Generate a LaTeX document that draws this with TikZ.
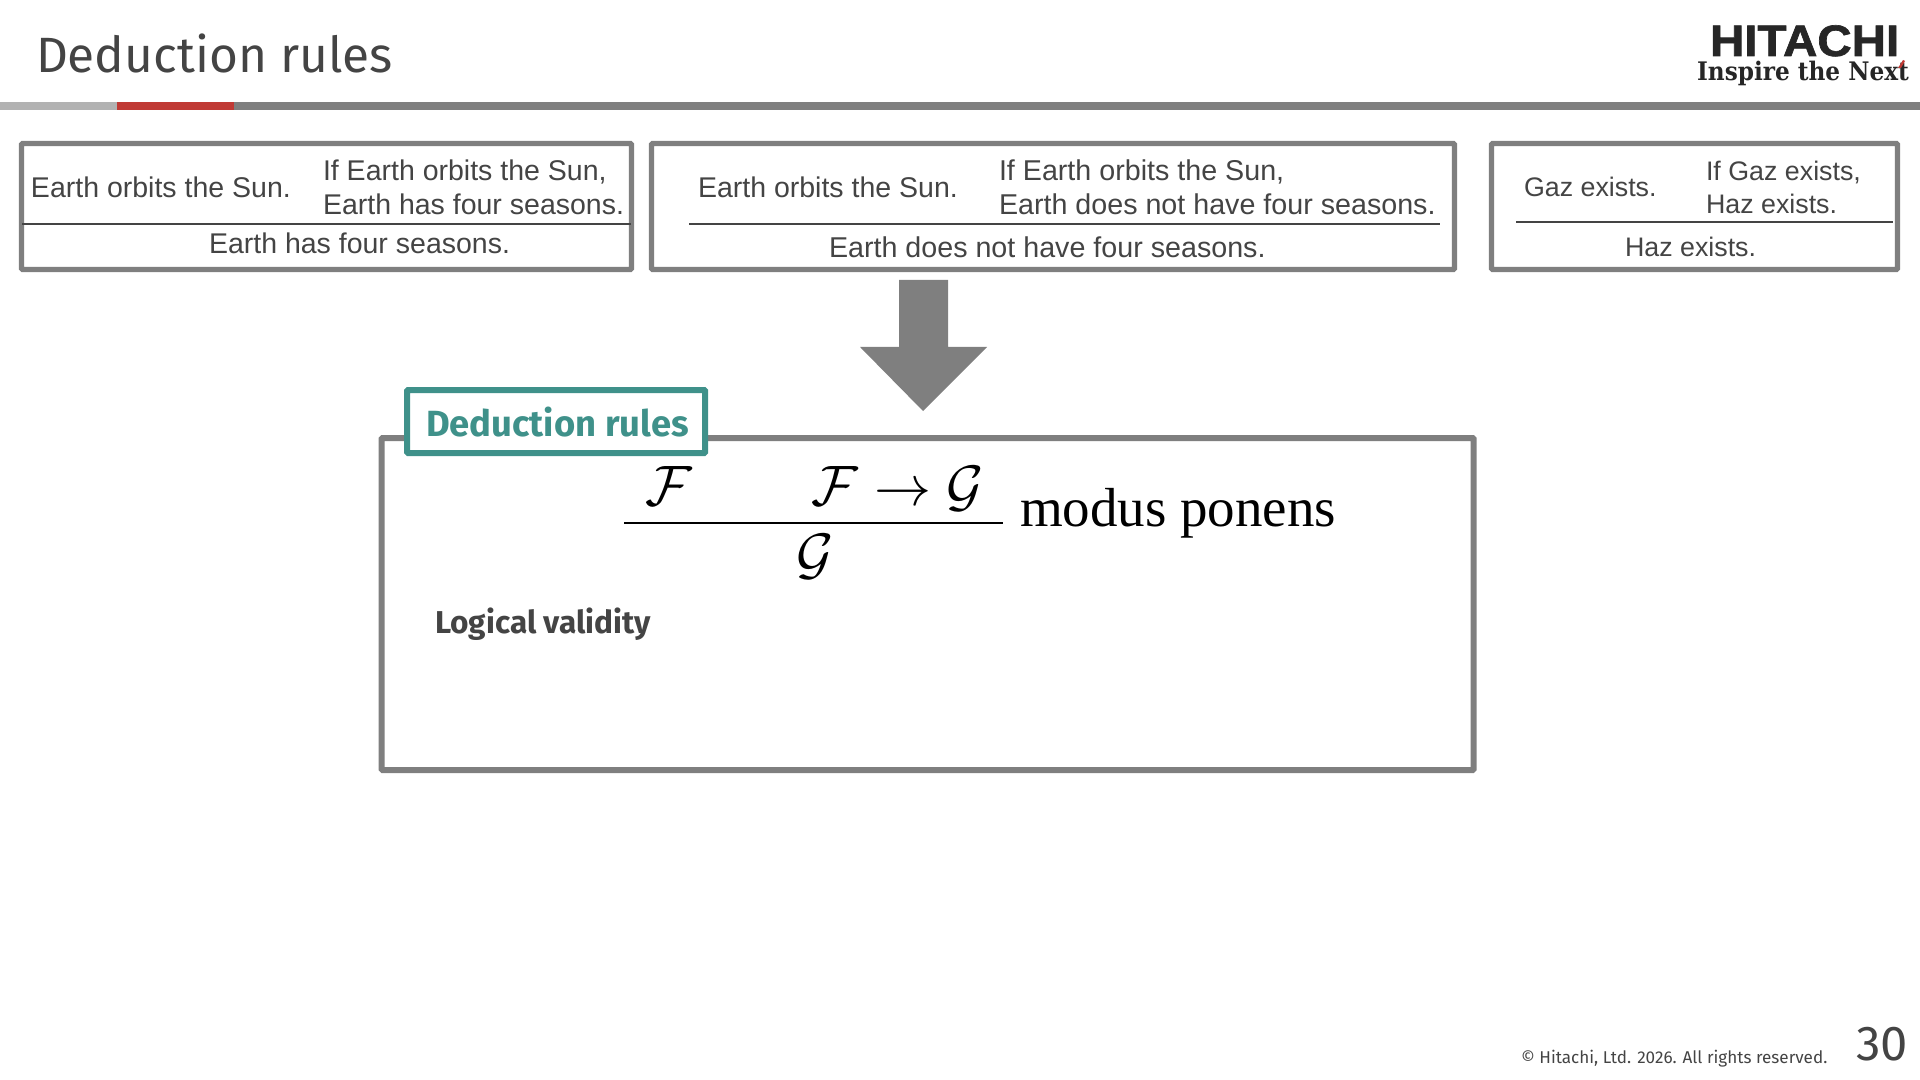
\documentclass[tikz,border=0pt]{standalone}
\usepackage{fix-cm}
\usepackage{fontspec}
\setmainfont{Liberation Sans}
\newfontfamily\hit{Fira Sans}
\newfontfamily\tms{Liberation Serif}
\newfontfamily\dvs{DejaVu Serif}
\definecolor{txt}{HTML}{444444}
\definecolor{frame}{HTML}{7F7F7F}
\definecolor{teal1}{HTML}{3F918A}
\definecolor{red1}{HTML}{C03A35}
\newcommand{\fs}[1]{\fontsize{#1}{#1}\selectfont}
\tikzset{
 x=0.5pt,y=-0.5pt,
 lab/.style={anchor=base west,inner sep=0,outer sep=0,text=txt,font=\fs{14.25}},
 labm/.style={lab,font=\fs{14.33}},
 labs/.style={lab,font=\fs{13.4}},
 boxf/.style={draw=frame,line width=2.6pt,fill=white,rounded corners=0.5pt},
 rulel/.style={draw=txt,line width=0.7pt},
 mth/.style={anchor=base,inner sep=0,font=\fs{28.5}},
}
\begin{document}
\begin{tikzpicture}
\useasboundingbox (0,0) rectangle (1920,1080);
% header
\node[lab,font=\hit\fs{24.8}] (title) at (36,73) {Deduction rules};
\fill[frame] (234,102) rectangle (1920,110);
\fill[gray!60] (0,102) rectangle (117,110);
\fill[red1] (117,102) rectangle (234,110);
\node[lab,text=black!85,font=\addfontfeature{FakeBold=1.5}\bfseries\fs{22}] (logoa) at (1710,56) {\scalebox{1.08}[1.0]{HITACHI}};
\node[lab,text=black!85,font=\dvs\bfseries\fs{11.6}] (logob) at (1697,81) {\scalebox{1}[1.1]{Inspire the Next}};
\fill[red1] (1898,68) -- (1903,60) -- (1905,61) -- (1901,68) -- cycle;
% box 1
\node[boxf,inner sep=0,minimum width=610*0.5pt,minimum height=126*0.5pt] (b1) at (326.5,206.5) {};
\coordinate (r1a) at (22,224); \coordinate (r1b) at (631,224);
\draw[rulel] (r1a) -- (r1b);
\node[lab] (t11) at (31,197.5) {Earth orbits the Sun.};
\node[lab] (t12) at (323,180.5) {If Earth orbits the Sun,};
\node[lab] (t13) at (323,214.5) {Earth has four seasons.};
\node[lab] (t14) at (209,253.5) {Earth has four seasons.};
% box 2
\node[boxf,inner sep=0,minimum width=803*0.5pt,minimum height=126*0.5pt] (b2) at (1053,206.5) {};
\coordinate (r2a) at (689,224); \coordinate (r2b) at (1440,224);
\draw[rulel,line width=1.1pt] (r2a) -- (r2b);
\node[lab] (t21) at (698,197.5) {Earth orbits the Sun.};
\node[labm] (t22) at (999,180.5) {If Earth orbits the Sun,};
\node[labm] (t23) at (999,214.5) {Earth does not have four seasons.};
\node[labm] (t24) at (829,257.5) {Earth does not have four seasons.};
% box 3
\node[boxf,inner sep=0,minimum width=406*0.5pt,minimum height=126*0.5pt] (b3) at (1694.5,206.5) {};
\coordinate (r3a) at (1516,222); \coordinate (r3b) at (1893,222);
\draw[rulel] (r3a) -- (r3b);
\node[labs] (t31) at (1524,196.5) {Gaz exists.};
\node[labs] (t32) at (1706,180.5) {If Gaz exists,};
\node[labs] (t33) at (1706,213.5) {Haz exists.};
\node[labs] (t34) at (1625,256.5) {Haz exists.};
% arrow
\fill[frame] (899,280) -- (948,280) -- (948,347) -- (987,347) -- (923,411) -- (860,347) -- (899,347) -- cycle;
% main box
\node[boxf,line width=3pt,inner sep=0,minimum width=1092*0.5pt,minimum height=332*0.5pt] (main) at (927.5,604) {};
\node[draw=teal1,line width=3pt,fill=white,rounded corners=0.5pt,inner sep=0,minimum width=298*0.5pt,minimum height=63*0.5pt] (tag) at (556,421.5) {};
\node[lab,text=teal1,font=\hit\bfseries\fs{18.2}] (tagt) at (426,436) {Deduction rules};
% formula
\node[mth] (f1) at (669,505) {$\mathcal{F}$};
\node[mth] (f2) at (898,505) {$\mathcal{F}\to\mathcal{G}$};
\node[mth] (f3) at (815,573) {$\mathcal{G}$};
\coordinate (fa) at (624,523); \coordinate (fb) at (1003,523);
\draw[black,line width=1.1pt] (fa) -- (fb);
\node[lab,text=black,font=\tms\fs{27.5}] (mp) at (1020,526) {modus ponens};
\node[lab,font=\hit\bfseries\fs{15.8}] (lv) at (435,633) {Logical validity};
% footer
\node[lab,font=\hit\fs{8.55}] (copy) at (1521,1063) {© Hitachi, Ltd. 2026. All rights reserved.};
\node[lab,font=\hit\fs{24.5}] (num) at (1856,1060) {30};
\end{tikzpicture}
\end{document}
